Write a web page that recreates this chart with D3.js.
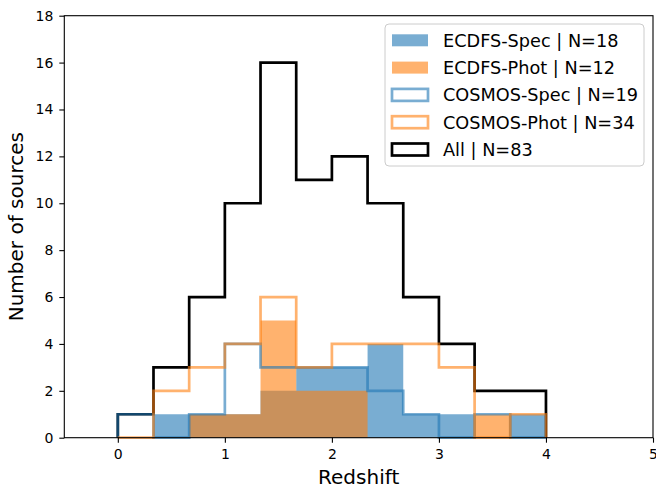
<!DOCTYPE html>
<html>
<head>
<meta charset="utf-8">
<script src="https://cdn.jsdelivr.net/npm/d3@7"></script>
<style>
	body { margin: 0; background: #fff; }
	svg text { font-family: "DejaVu Sans", sans-serif; fill: #000; }
</style>
</head>
<body>
<div class="hist"></div>
<script>
// bin edges (width 1/3, from 0 to 4)
var binEdges = [0, 1 / 3, 2 / 3, 1, 4 / 3, 5 / 3, 2, 7 / 3, 8 / 3, 3, 10 / 3, 11 / 3, 4];

// counts per bin
var ecdfsSpec = [0, 1, 1, 1, 2, 3, 3, 4, 1, 1, 0, 1];
var ecdfsPhot = [0, 0, 1, 1, 5, 2, 2, 0, 0, 0, 1, 0];
var cosmosSpec = [1, 0, 1, 4, 3, 3, 3, 2, 1, 0, 1, 0];
var cosmosPhot = [0, 2, 3, 4, 6, 3, 4, 4, 4, 3, 0, 1];
var allCounts = [1, 3, 6, 10, 16, 11, 12, 10, 6, 4, 2, 2];

var legendLabels = ["ECDFS-Spec | N=18", "ECDFS-Phot | N=12", "COSMOS-Spec | N=19", "COSMOS-Phot | N=34", "All | N=83"];
var xTicks = [0, 1, 2, 3, 4, 5];
var yTicks = [0, 2, 4, 6, 8, 10, 12, 14, 16, 18];

var BLUE = "#1f77b4", ORANGE = "#ff7f0e", ALPHA = 0.6, LW = 2.7;

var W = 656, H = 486;
var margin = { top : 15.7, right : 3, bottom : 48.3, left : 64.3 },
	width = W - margin.left - margin.right,
	height = H - margin.top - margin.bottom;

var svg = d3.select(".hist").append("svg")
	.attr("width", W)
	.attr("height", H);

var g = svg.append("g")
	.attr("transform", "translate(" + margin.left + "," + margin.top + ")");

var x = d3.scaleLinear().domain([-0.5, 5]).range([0, width]);
var y = d3.scaleLinear().domain([0, 18]).range([height, 0]);

function stepPoints(counts) {
	var pts = [[binEdges[0], 0]];
	counts.forEach(function ( c, i ) {
		pts.push([binEdges[i], c]);
		pts.push([binEdges[i + 1], c]);
	});
	pts.push([binEdges[binEdges.length - 1], 0]);
	return pts;
}

var line = d3.line()
	.x(function ( d ) { return x(d[0]); })
	.y(function ( d ) { return y(d[1]); });

function drawStep(counts, color, opacity) {
	g.append("path")
		.attr("d", line(stepPoints(counts)))
		.attr("fill", "none")
		.attr("stroke", color)
		.attr("stroke-opacity", opacity)
		.attr("stroke-width", LW)
		.attr("stroke-linejoin", "miter");
}

// filled histogram as one closed shape, so no seams between bins
function drawBars(counts, color) {
	g.append("path")
		.attr("d", line(stepPoints(counts)) + "Z")
		.attr("fill", color)
		.attr("fill-opacity", ALPHA)
		.attr("stroke", "none");
}

// same drawing order as the original plot
drawStep(allCounts, "#000", 1);
drawBars(ecdfsSpec, BLUE);
drawBars(ecdfsPhot, ORANGE);
drawStep(cosmosSpec, BLUE, ALPHA);
drawStep(cosmosPhot, ORANGE, ALPHA);

// axes
var xAxis = g.append("g")
	.attr("transform", "translate(0," + height + ")")
	.call(d3.axisBottom(x).tickValues(xTicks).tickFormat(d3.format("d"))
		.tickSize(5).tickSizeOuter(0).tickPadding(6));

var yAxis = g.append("g")
	.call(d3.axisLeft(y).tickValues(yTicks).tickFormat(d3.format("d"))
		.tickSize(5).tickSizeOuter(0).tickPadding(6));

[xAxis, yAxis].forEach(function ( a ) {
	a.select(".domain").remove();
	a.selectAll(".tick line").attr("stroke", "#000").attr("stroke-width", 1.1);
	a.selectAll(".tick text").style("font-size", "14px").attr("fill", "#000");
});

g.append("rect")
	.attr("width", width)
	.attr("height", height)
	.attr("fill", "none")
	.attr("stroke", "#000")
	.attr("stroke-width", 1.1);

g.append("text")
	.attr("text-anchor", "middle")
	.attr("transform", "translate(" + (width / 2) + "," + (height + 46) + ")")
	.style("font-size", "20px")
	.text("Redshift");

g.append("text")
	.attr("text-anchor", "middle")
	.attr("transform", "translate(" + (23 - margin.left) + "," + (height / 2) + ")rotate(-90)")
	.style("font-size", "20px")
	.text("Number of sources");

// legend
var legend = svg.append("g").attr("transform", "translate(385,24)");

legend.append("rect")
	.attr("width", 259)
	.attr("height", 142)
	.attr("rx", 4)
	.attr("fill", "#fff")
	.attr("fill-opacity", 0.8)
	.attr("stroke", "#cccccc")
	.attr("stroke-width", 1);

var handles = [
	{ fill : BLUE, stroke : null, op : ALPHA },
	{ fill : ORANGE, stroke : null, op : ALPHA },
	{ fill : null, stroke : BLUE, op : ALPHA },
	{ fill : null, stroke : ORANGE, op : ALPHA },
	{ fill : null, stroke : "#000", op : 1 }
];

legendLabels.forEach(function ( label, i ) {
	var cy = 16.3 + i * 27.3;
	var h = handles[i];
	legend.append("rect")
		.attr("x", 7)
		.attr("y", cy - 6)
		.attr("width", 36)
		.attr("height", 12)
		.attr("fill", h.fill || "none")
		.attr("fill-opacity", h.fill ? h.op : 0)
		.attr("stroke", h.stroke || "none")
		.attr("stroke-opacity", h.op)
		.attr("stroke-width", LW);
	legend.append("text")
		.attr("x", 58)
		.attr("y", cy + 6.4)
		.style("font-size", "17.7px")
		.text(label);
});
</script>
</body>
</html>
